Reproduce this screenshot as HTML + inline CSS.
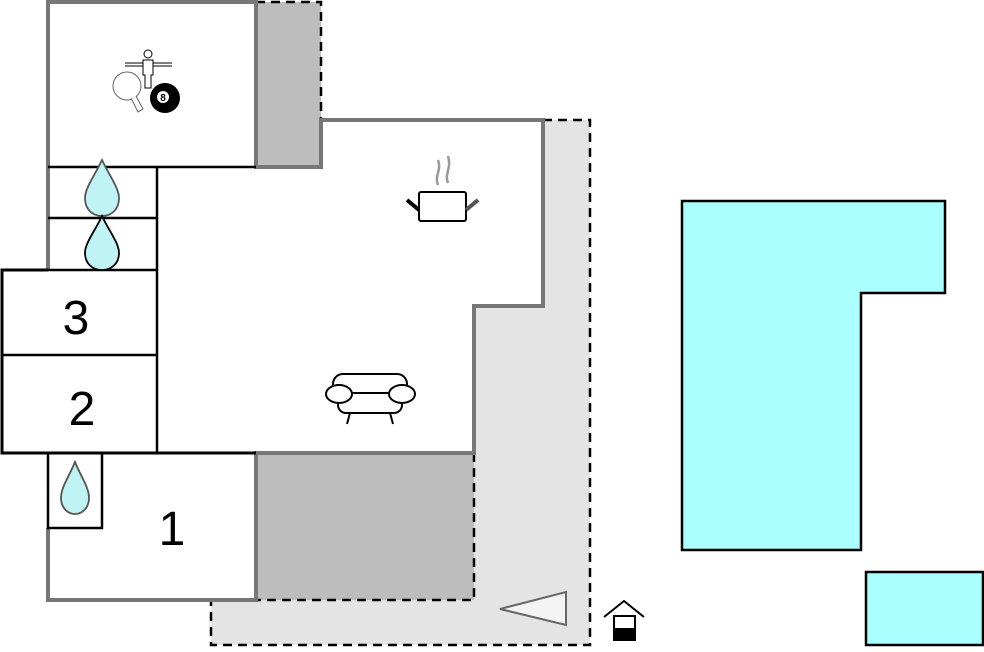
<!DOCTYPE html>
<html><head><style>body{margin:0;background:#fff}svg{display:block}</style></head><body>
<svg width="984" height="652" viewBox="0 0 984 652" xmlns="http://www.w3.org/2000/svg" font-family="Liberation Sans, sans-serif">
<!-- light gray outdoor -->
<path d="M543,120 H590 V645 H211 V600 H474 V306 H543 Z" fill="#e4e4e4"/>
<path d="M543,120 H590 V645 H211 V600" fill="none" stroke="#000" stroke-width="2.5" stroke-dasharray="9,6"/>
<!-- dark gray -->
<rect x="256" y="2" width="65" height="165" fill="#bdbdbd"/>
<path d="M256,2 H321 V120" fill="none" stroke="#000" stroke-width="2.5" stroke-dasharray="9,6"/>
<rect x="256" y="453" width="218" height="147" fill="#bdbdbd"/>
<path d="M474,453 V600 H256" fill="none" stroke="#000" stroke-width="2.5" stroke-dasharray="9,6"/>
<!-- house interior -->
<path d="M48,2 H256 V167 H321 V120 H543 V306 H474 V453 H256 V600 H48 V453 H2 V270 H48 Z" fill="#fff"/>
<!-- gray walls -->
<path d="M48,270 V2 H256 V167 H321 V120 H543 V306 H474 V453 H256 V600 H48 V528" fill="none" stroke="#777" stroke-width="4"/>
<line x1="256" y1="2" x2="256" y2="167" stroke="#777" stroke-width="4"/>
<!-- black walls -->
<g stroke="#000" stroke-width="2.5" fill="none">
<line x1="48" y1="167" x2="256" y2="167"/>
<line x1="48" y1="218" x2="157" y2="218"/>
<line x1="48" y1="270" x2="157" y2="270"/>
<line x1="157" y1="167" x2="157" y2="453"/>
<path d="M48,270 H2 V453 H256" stroke-width="3"/>
<line x1="2" y1="355" x2="157" y2="355"/>
<rect x="48" y="453" width="54" height="75"/>
</g>
<!-- drops -->
<g fill="#bff3f6" stroke="#555" stroke-width="1.8">
<path d="M102,160 C95,175 85,188 85,198 C85,210 93,216 102,216 C111,216 119,210 119,198 C119,188 109,175 102,160 Z"/>
<path d="M102,216 C95,231 85,243 85,253 C85,264 93,270 102,270 C111,270 119,264 119,253 C119,243 109,231 102,216 Z" stroke="#000"/>
<path d="M75,462 C69,477 61,487 61,498 C61,508 68,514 75,514 C82,514 89,508 89,498 C89,487 81,477 75,462 Z"/>
</g>
<!-- numbers -->
<g font-size="48" text-anchor="middle" fill="#000">
<text x="76" y="334">3</text>
<text x="82" y="425">2</text>
<text x="172" y="545">1</text>
</g>
<!-- game icons -->
<g stroke="#000" fill="none" stroke-width="1">
<line x1="125" y1="63" x2="172" y2="63"/><line x1="125" y1="66" x2="172" y2="66"/>
<circle cx="148" cy="54" r="4" fill="#fff"/>
<path d="M143,60 H153 V75 H151 V88 H145 V75 H143 Z" fill="#fff"/>
<circle cx="127" cy="86" r="14" fill="#fff" stroke="#666"/>
<path d="M131,98 L138,112 L143,109 L136,96" fill="#fff" stroke="#666"/>
</g>
<circle cx="165" cy="98" r="15" fill="#000"/>
<circle cx="163" cy="97" r="6" fill="#fff"/>
<text x="163" y="101" font-size="10" text-anchor="middle" font-weight="bold">8</text>
<!-- pot -->
<g stroke="#000" stroke-width="2" fill="none">
<rect x="419" y="192" width="47" height="29" rx="2" fill="#fff"/>
<line x1="407" y1="200" x2="419" y2="210" stroke-width="4"/>
<line x1="466" y1="210" x2="478" y2="200" stroke-width="4" stroke="#555"/>
<path d="M438,185 C434,176 442,170 438,160 M448,183 C444,174 452,168 448,156" stroke="#999" stroke-width="2.5"/>
</g>
<!-- sofa -->
<g stroke="#000" stroke-width="2" fill="#fff">
<rect x="333" y="374" width="74" height="26" rx="10"/>
<rect x="338" y="393" width="64" height="20" rx="8"/>
<ellipse cx="339" cy="394" rx="13" ry="9"/>
<ellipse cx="402" cy="394" rx="13" ry="9"/>
<line x1="350" y1="413" x2="347" y2="424"/><line x1="390" y1="413" x2="393" y2="424"/>
</g>
<!-- arrow -->
<polygon points="500,609 566,592 566,625" fill="#f4f4f4" stroke="#666" stroke-width="2"/>
<!-- entrance icon -->
<g stroke="#000" stroke-width="2" fill="none">
<path d="M604,617 L624,601 L644,617"/>
<rect x="614" y="616" width="21" height="24" fill="#fff"/>
</g>
<rect x="614" y="628" width="21" height="12" fill="#000"/>
<!-- pools -->
<path d="M682,201 H945 V293 H861 V550 H682 Z" fill="#aaffff" stroke="#000" stroke-width="2.5"/>
<rect x="866" y="572" width="117" height="73" fill="#aaffff" stroke="#000" stroke-width="2.5"/>
</svg>
</body></html>
